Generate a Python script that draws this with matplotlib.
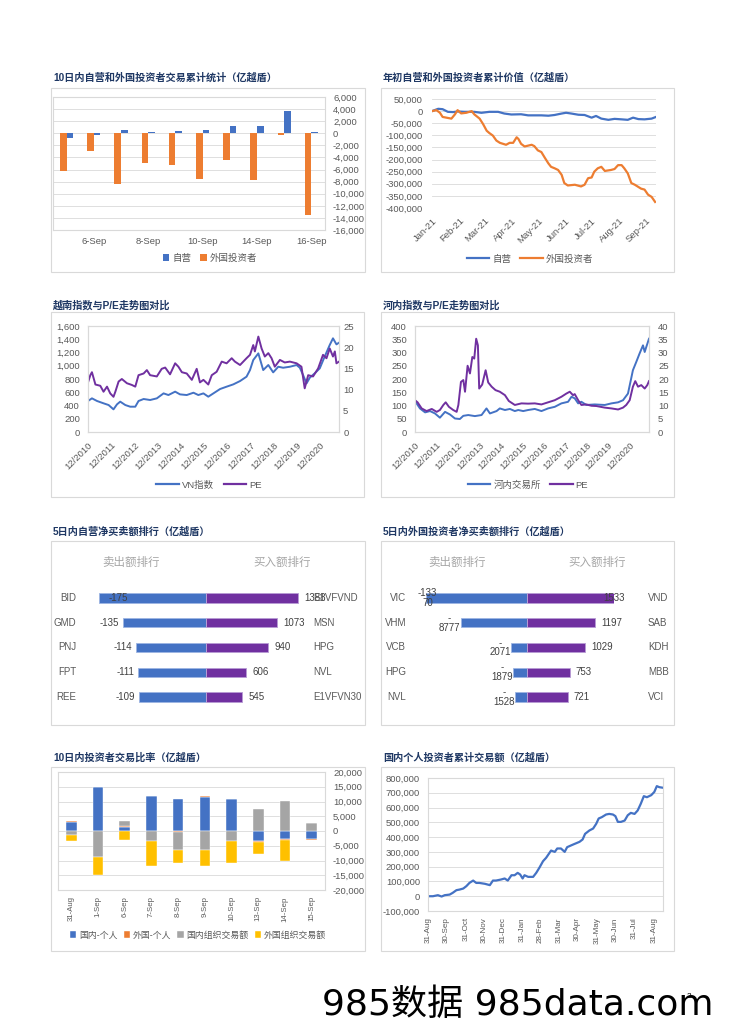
import matplotlib
matplotlib.use('Agg')

import matplotlib.pyplot as plt
from matplotlib.patches import Rectangle
from matplotlib.lines import Line2D
from matplotlib.ticker import FuncFormatter
import numpy as np
import pandas as pd

plt.rcParams['font.family'] = ['Liberation Sans', 'Noto Sans CJK SC', 'DejaVu Sans']

# ---- 10日内自营和外国投资者交易累计统计 ----
riqi_a = ['1-Sep', '6-Sep', '7-Sep', '8-Sep', '9-Sep', '10-Sep', '13-Sep', '14-Sep', '15-Sep', '16-Sep']
ziying_10d = [-720, -330, 560, 220, 330, 500, 1170, 1280, 3610, 220]
waiguo_10d = [-6230, -2950, -8400, -4900, -5230, -7600, -4400, -7670, -220, -13450]

# ---- 年初自营和外国投资者累计价值 (天数从 2021-01-01 起) ----
ziying_tian = [0, 7, 12, 18, 24, 29, 37, 48, 56, 65, 75, 82, 90, 101, 109, 116, 124, 132, 139, 147,
               152, 158, 166, 173, 181, 186, 192, 200, 207, 215, 222, 228, 234, 241, 249, 254]
ziying_lj = [0, 9500, 8000, -3000, -4000, -1500, -3000, -3000, -7000, -3000, -3000, -10000, -14000,
             -13000, -17500, -17500, -17500, -19000, -16000, -10000, -6800, -10000, -15000, -16000,
             -27000, -20000, -31000, -36000, -32000, -34000, -36000, -27000, -33000, -34000, -31000, -24000]
waiguo_tian = [0, 5, 9, 12, 22, 26, 29, 33, 39, 45, 48, 54, 58, 62, 65, 69, 73, 77, 84, 88, 92, 96, 98,
               101, 105, 113, 116, 120, 124, 128, 132, 135, 139, 143, 147, 150, 154, 162, 169, 173, 177,
               181, 184, 188, 192, 196, 203, 207, 211, 215, 218, 222, 226, 230, 237, 241, 245, 249, 253]
waiguo_lj = [0, 4000, -6800, -24000, -31000, -13500, 4000, -9500, -6800, 0, -13500, -31000, -54000,
             -81000, -90500, -101000, -121600, -131000, -139000, -131000, -131000, -108000, -115000,
             -135000, -146000, -139000, -144500, -162000, -169000, -193000, -216000, -230000, -236000,
             -243000, -263000, -297000, -307000, -304000, -311000, -304000, -277000, -274000, -250000,
             -236000, -230000, -247000, -243000, -239000, -223000, -223000, -236000, -257000, -297000,
             -304000, -320000, -324000, -345000, -354000, -375000]

# ---- 越南指数与P/E ----
vn_t = [2010.92, 2011.09, 2011.31, 2011.59, 2011.81, 2012.02, 2012.17, 2012.31, 2012.53, 2012.74,
        2012.96, 2013.10, 2013.32, 2013.60, 2013.89, 2014.18, 2014.39, 2014.68, 2014.89, 2015.18,
        2015.47, 2015.68, 2015.90, 2016.11, 2016.33, 2016.62, 2016.90, 2017.19, 2017.48, 2017.76,
        2017.91, 2018.05, 2018.27, 2018.48, 2018.70, 2018.91, 2019.13, 2019.34, 2019.63, 2019.92,
        2020.06, 2020.20, 2020.35, 2020.49, 2020.70, 2020.92, 2021.13, 2021.35, 2021.49, 2021.64, 2021.75]
vn_zhishu = [468, 508, 468, 433, 407, 342, 417, 458, 407, 382, 382, 468, 498, 483, 508, 583, 558, 609,
             568, 558, 593, 558, 583, 533, 583, 649, 684, 719, 769, 835, 935, 1086, 1187, 935, 1011,
             900, 985, 970, 985, 1011, 970, 860, 734, 820, 885, 961, 1137, 1313, 1414, 1323, 1348]
vn_pe_t = [2010.92, 2011.02, 2011.09, 2011.24, 2011.45, 2011.59, 2011.74, 2011.88, 2012.02, 2012.10,
           2012.24, 2012.38, 2012.60, 2012.81, 2012.96, 2013.10, 2013.32, 2013.46, 2013.60, 2013.89,
           2014.10, 2014.25, 2014.46, 2014.68, 2014.82, 2014.97, 2015.18, 2015.40, 2015.61, 2015.75,
           2015.90, 2016.11, 2016.26, 2016.47, 2016.69, 2016.90, 2017.12, 2017.26, 2017.48, 2017.62,
           2017.76, 2017.91, 2018.05, 2018.12, 2018.27, 2018.41, 2018.55, 2018.70, 2018.84, 2018.98,
           2019.20, 2019.41, 2019.63, 2019.92, 2020.13, 2020.27, 2020.42, 2020.63, 2020.85, 2021.06,
           2021.21, 2021.35, 2021.49, 2021.57, 2021.64, 2021.75]
vn_pe = [11.7, 13.4, 14.1, 11.2, 10.9, 9.5, 10.7, 9.1, 8.3, 9.5, 11.9, 12.5, 11.5, 11.1, 10.7, 13.4,
         13.8, 14.6, 13.4, 13.1, 14.9, 15.2, 13.6, 16.2, 15.4, 14.1, 13.8, 12.3, 14.9, 11.7, 12.3, 11.2,
         13.4, 14.2, 16.6, 16.2, 17.4, 16.6, 15.8, 16.6, 17.4, 18.2, 20.5, 19.0, 22.5, 19.7, 17.8, 18.6,
         17.4, 15.4, 17.0, 16.4, 16.6, 16.2, 15.4, 10.3, 13.4, 13.1, 15.0, 18.2, 17.4, 19.7, 17.8, 19.0,
         16.2, 16.6]

# ---- 河内指数与P/E ----
hn_t = [2010.92, 2011.15, 2011.39, 2011.62, 2011.85, 2012.08, 2012.32, 2012.55, 2012.78, 2013.01,
        2013.17, 2013.40, 2013.71, 2014.02, 2014.25, 2014.41, 2014.72, 2014.87, 2015.11, 2015.34,
        2015.57, 2015.73, 2015.96, 2016.19, 2016.50, 2016.81, 2017.12, 2017.43, 2017.74, 2018.05,
        2018.21, 2018.36, 2018.52, 2018.67, 2018.90, 2019.29, 2019.76, 2020.07, 2020.38, 2020.61,
        2020.84, 2020.99, 2021.07, 2021.23, 2021.38, 2021.54, 2021.62, 2021.69, 2021.82]
hn_zhishu = [117, 89, 74, 79, 70, 54, 76, 66, 51, 49, 61, 64, 60, 64, 89, 70, 79, 89, 83, 87, 79, 83,
             79, 83, 87, 79, 89, 95, 108, 114, 133, 127, 108, 114, 102, 104, 102, 108, 112, 120, 145,
             202, 233, 265, 296, 327, 302, 320, 352]
hn_pe_t = [2010.92, 2011.04, 2011.23, 2011.46, 2011.70, 2011.93, 2012.08, 2012.24, 2012.35, 2012.50,
           2012.70, 2012.86, 2012.94, 2013.06, 2013.17, 2013.25, 2013.37, 2013.48, 2013.59, 2013.68,
           2013.77, 2013.85, 2013.91, 2014.05, 2014.21, 2014.33, 2014.49, 2014.67, 2014.87, 2015.11,
           2015.29, 2015.57, 2015.88, 2016.19, 2016.50, 2016.81, 2017.12, 2017.43, 2017.74, 2017.97,
           2018.13, 2018.28, 2018.36, 2018.52, 2018.67, 2018.90, 2019.14, 2019.37, 2019.76, 2020.07,
           2020.38, 2020.61, 2020.76, 2020.92, 2021.07, 2021.18, 2021.31, 2021.46, 2021.62, 2021.74, 2021.82]
hn_pe = [12.0, 11.2, 8.9, 7.9, 8.7, 7.6, 8.3, 10.2, 11.2, 9.5, 8.3, 7.6, 10.2, 18.9, 19.6, 15.2, 25.0,
         22.1, 28.3, 27.7, 35.2, 32.7, 16.4, 17.9, 23.3, 18.7, 17.1, 15.8, 15.2, 13.9, 11.7, 10.2, 10.8,
         10.7, 10.8, 10.4, 11.2, 12.0, 13.3, 14.5, 15.2, 13.9, 14.3, 12.0, 10.2, 10.4, 9.9, 9.8, 9.2,
         8.9, 8.5, 9.2, 10.2, 12.0, 17.1, 19.2, 17.1, 17.7, 16.4, 17.7, 19.2]

# ---- 5日内净买卖额排行 ----
zy_mai_chu = ['BID', 'GMD', 'PNJ', 'FPT', 'REE']
zy_mai_chu_e = [-175, -135, -114, -111, -109]
zy_mai_ru = ['E1VFVND', 'MSN', 'HPG', 'NVL', 'E1VFVN30']
zy_mai_ru_e = [1388, 1073, 940, 606, 545]
wg_mai_chu = ['VIC', 'VHM', 'VCB', 'HPG', 'NVL']
wg_mai_chu_e = [-13370, -8777, -2071, -1879, -1528]
wg_mai_ru = ['VND', 'SAB', 'KDH', 'MBB', 'VCI']
wg_mai_ru_e = [1533, 1197, 1029, 753, 721]

# ---- 10日内投资者交易比率 ----
riqi_b = ['31-Aug', '1-Sep', '6-Sep', '7-Sep', '8-Sep', '9-Sep', '10-Sep', '13-Sep', '14-Sep', '15-Sep']
guonei_geren = [2950, 14900, 1480, 11800, 10700, 11470, 10700, -3300, -2600, -2600]
waiguo_geren = [450, 0, 150, 0, -200, 350, 0, -350, -350, -350]
guonei_zuzhi = [-1250, -8860, 1700, -3520, -6250, -6480, -3300, 7600, 10100, 2600]
waiguo_zuzhi = [-2150, -6000, -3180, -8300, -4430, -5230, -7400, -4000, -7300, 250]

# ---- 国内个人投资者累计交易额 (天数从 2020-08-31 起) ----
geren_tian = [0, 8, 16, 22, 27, 35, 40, 46, 51, 57, 62, 67, 73, 78, 83, 92, 100, 105, 110, 118, 124,
              129, 135, 140, 145, 149, 153, 156, 162, 170, 175, 180, 186, 191, 199, 205, 209, 215, 221,
              225, 232, 237, 245, 250, 254, 261, 267, 272, 276, 281, 288, 293, 299, 303, 307, 312, 318,
              323, 328, 334, 339, 344, 349, 354, 361, 366, 370, 374, 380]
geren_lj = [0, 0, 7000, -2000, 7000, 11000, 23000, 41000, 45000, 52000, 68000, 90000, 106000, 90000,
            90000, 84000, 75000, 106000, 106000, 113000, 120000, 106000, 142000, 142000, 158000, 147000,
            120000, 142000, 131000, 131000, 158000, 192000, 237000, 260000, 309000, 300000, 323000,
            323000, 300000, 332000, 345000, 354000, 368000, 384000, 422000, 445000, 458000, 490000,
            526000, 535000, 553000, 557000, 553000, 542000, 503000, 503000, 512000, 548000, 564000,
            557000, 580000, 625000, 677000, 670000, 684000, 706000, 745000, 738000, 734000]

BLUE = '#4472C4'
ORANGE = '#ED7D31'
GRAY = '#A5A5A5'
YELLOW = '#FFC000'
PURPLE = '#7030A0'
GRID = '#D9D9D9'
TXT = '#595959'

W, H = 729, 1032
fig = plt.figure(figsize=(W / 100, H / 100), dpi=100)


def rect(l, t, r, b):
    return [l / W, 1 - b / H, (r - l) / W, (b - t) / H]


def fx(x):
    return x / W


def fy(y):
    return 1 - y / H


def kuang(l, t, r, b):
    fig.add_artist(Rectangle((l / W, 1 - b / H), (r - l) / W, (b - t) / H,
                             transform=fig.transFigure, fill=False, ec=GRID, lw=0.8))


def biaoti(x, y, s):
    fig.text(fx(x), fy(y), s, fontsize=7.3, fontweight='bold', color='#1F3864', va='center')


def style(ax, frame=True):
    for s in ax.spines.values():
        s.set_color(GRID)
        s.set_linewidth(0.8)
        s.set_visible(frame)
    ax.tick_params(length=0, labelsize=6.8, labelcolor=TXT)


def tuli(ax, handles, labels, x, y, square=False, size=6.8, gap=1.0):
    kw = dict(handlelength=0.7, handleheight=0.7) if square else dict(handlelength=2.4)
    ax.legend(handles, labels, loc='center', bbox_to_anchor=(fx(x), fy(y)),
              bbox_transform=fig.transFigure, ncol=len(labels), frameon=False, fontsize=size,
              labelcolor=TXT, handletextpad=0.3, columnspacing=gap, borderpad=0, **kw)


comma = FuncFormatter(lambda v, _: f'{v:,.0f}')

# 面板边框
for l, t, r, b in [(51, 88, 365, 272), (381, 88, 674, 272), (51, 312, 364, 497), (381, 312, 674, 497),
                   (51, 541, 365, 725), (381, 541, 674, 725), (51, 767, 365, 951), (381, 767, 674, 951)]:
    kuang(l, t, r, b)

# =================== 图1 ===================
biaoti(53, 78, '10日内自营和外国投资者交易累计统计（亿越盾）')
ax1 = fig.add_axes(rect(53, 97, 325, 230))
x1 = np.arange(len(riqi_a))
b_zy = ax1.bar(x1 + 0.12, ziying_10d, 0.24, color=BLUE)
b_wg = ax1.bar(x1 - 0.12, waiguo_10d, 0.24, color=ORANGE)
ax1.set_xlim(-0.5, len(riqi_a) - 0.5)
ax1.set_ylim(-16000, 6000)
ax1.set_yticks(np.arange(-16000, 6001, 2000))
ax1.yaxis.set_major_formatter(comma)
ax1.yaxis.tick_right()
ax1.set_xticks(x1[1::2], [riqi_a[i] for i in x1[1::2]])
ax1.grid(axis='y', color=GRID, lw=0.6)
ax1.set_axisbelow(True)
style(ax1)
ax1.tick_params(axis='y', pad=5.8)
ax1.tick_params(axis='x', pad=5)
tuli(ax1, [b_zy, b_wg], ['自营', '外国投资者'], 210, 258, square=True)

# =================== 图2 ===================
biaoti(383, 78, '年初自营和外国投资者累计价值（亿越盾）')
ax2 = fig.add_axes(rect(432, 99, 656, 208))
t0 = pd.Timestamp('2021-01-01')
ax2.plot(t0 + pd.to_timedelta(ziying_tian, unit='D'), ziying_lj, color=BLUE, lw=1.6)
ax2.plot(t0 + pd.to_timedelta(waiguo_tian, unit='D'), waiguo_lj, color=ORANGE, lw=1.6)
ax2.set_ylim(-400000, 50000)
ax2.set_yticks(np.arange(-400000, 50001, 50000))
ax2.yaxis.set_major_formatter(comma)
ax2.set_xlim(t0, t0 + pd.Timedelta(days=254))
yue = pd.date_range('2021-01-01', '2021-09-01', freq='MS')
ax2.set_xticks(yue, [d.strftime('%b-%y') for d in yue], rotation=45, ha='right',
               rotation_mode='anchor')
ax2.grid(axis='y', color=GRID, lw=0.6)
ax2.set_axisbelow(True)
style(ax2, frame=False)
ax2.tick_params(axis='y', pad=6.5)
ax2.tick_params(axis='x', pad=6)
tuli(ax2, [Line2D([], [], color=BLUE, lw=1.6), Line2D([], [], color=ORANGE, lw=1.6)],
     ['自营', '外国投资者'], 530, 259)

# =================== 图3 ===================
biaoti(53, 305, '越南指数与P/E走势图对比')
ax3 = fig.add_axes(rect(88, 326, 339, 432))
ax3b = ax3.twinx()
ax3.plot(vn_t, vn_zhishu, color=BLUE, lw=1.4)
ax3b.plot(vn_pe_t, vn_pe, color=PURPLE, lw=1.4)
ax3.set_xlim(2010.92, 2021.75)
ax3.set_ylim(0, 1600)
ax3.set_yticks(np.arange(0, 1601, 200))
ax3.yaxis.set_major_formatter(comma)
ax3b.set_ylim(0, 25)
ax3b.set_yticks(np.arange(0, 26, 5))
nian = np.arange(2010, 2021)
ax3.set_xticks(nian + 0.92, [f'12/{n}' for n in nian], rotation=45, ha='right', rotation_mode='anchor')
style(ax3)
style(ax3b)
ax3.tick_params(axis='y', pad=5.8)
ax3b.tick_params(axis='y', pad=3)
ax3.tick_params(axis='x', pad=6)
tuli(ax3, [Line2D([], [], color=BLUE, lw=1.6), Line2D([], [], color=PURPLE, lw=1.6)],
     ['VN指数', 'PE'], 209, 485)

# =================== 图4 ===================
biaoti(383, 305, '河内指数与P/E走势图对比')
ax4 = fig.add_axes(rect(415, 326, 649, 432))
ax4b = ax4.twinx()
ax4.plot(hn_t, hn_zhishu, color=BLUE, lw=1.4)
ax4b.plot(hn_pe_t, hn_pe, color=PURPLE, lw=1.4)
ax4.set_xlim(2010.92, 2021.82)
ax4.set_ylim(0, 400)
ax4.set_yticks(np.arange(0, 401, 50))
ax4b.set_ylim(0, 40)
ax4b.set_yticks(np.arange(0, 41, 5))
ax4.set_xticks(nian + 0.92, [f'12/{n}' for n in nian], rotation=45, ha='right', rotation_mode='anchor')
style(ax4)
style(ax4b)
ax4.tick_params(axis='y', pad=5.8)
ax4b.tick_params(axis='y', pad=6.5)
ax4.tick_params(axis='x', pad=6)
tuli(ax4, [Line2D([], [], color=BLUE, lw=1.6), Line2D([], [], color=PURPLE, lw=1.6)],
     ['河内交易所', 'PE'], 528, 485)


# =================== 图5 / 图6 ===================
def paihang(lx, cx, rx, names_l, vals_l, names_r, vals_r, name_lx, name_rx, zhedie):
    top, bot = 585.6, 709.4
    n = len(vals_l)
    y = np.arange(n)
    axL = fig.add_axes(rect(lx, top, cx, bot))
    axR = fig.add_axes(rect(cx, top, rx, bot))
    axL.barh(y, vals_l, 0.37, color=BLUE, ec='#9DB5E3', lw=0.6)
    axR.barh(y, vals_r, 0.37, color=PURPLE, ec='#B79BD4', lw=0.6)
    lmin, rmax = min(vals_l), max(vals_r) * (1.0 if zhedie else 1.24)
    axL.set_xlim(lmin, 0)
    axR.set_xlim(0, rmax)
    for a in (axL, axR):
        a.set_ylim(n - 0.5, -0.5)
        a.axis('off')
    hang = (bot - top) / n
    for i in range(n):
        yy = fy(top + (i + 0.5) * hang)
        fig.text(fx(name_lx), yy, names_l[i], ha='right', va='center', fontsize=7, color=TXT)
        fig.text(fx(name_rx), yy, names_r[i], ha='left', va='center', fontsize=7, color=TXT)
        v = vals_l[i]
        s = str(v)
        if zhedie:
            s = s[:4] + '\n' + s[4:] if len(s) > 5 else '-\n' + s[1:]
            dx, ha = (1, 'center') if v <= lmin * 0.98 else (-8, 'center')
        else:
            dx, ha = (7, 'left') if v <= lmin * 0.98 else (-3, 'right')
        axL.annotate(s, (v, i), xytext=(dx, 0), textcoords='offset points', ha=ha, va='center',
                     fontsize=7, color='#404040', linespacing=0.95, annotation_clip=False)
        v = vals_r[i]
        dx, ha = (0, 'center') if v >= rmax * 0.98 else (4.3, 'left')
        axR.annotate(str(v), (v, i), xytext=(dx, 0), textcoords='offset points', ha=ha, va='center',
                     fontsize=7, color='#404040', annotation_clip=False)


biaoti(53, 532, '5日内自营净买卖额排行（亿越盾）')
fig.text(fx(131), fy(563), '卖出额排行', ha='center', va='center', fontsize=8.3, color='#A6A6A6')
fig.text(fx(282), fy(563), '买入额排行', ha='center', va='center', fontsize=8.3, color='#A6A6A6')
paihang(99, 206, 320, zy_mai_chu, zy_mai_chu_e, zy_mai_ru, zy_mai_ru_e, 76, 313, False)

biaoti(383, 532, '5日内外国投资者净买卖额排行（亿越盾）')
fig.text(fx(457), fy(563), '卖出额排行', ha='center', va='center', fontsize=8.3, color='#A6A6A6')
fig.text(fx(597), fy(563), '买入额排行', ha='center', va='center', fontsize=8.3, color='#A6A6A6')
paihang(426, 527, 614, wg_mai_chu, wg_mai_chu_e, wg_mai_ru, wg_mai_ru_e, 406, 648, True)

# =================== 图7 ===================
biaoti(53, 758, '10日内投资者交易比率（亿越盾）')
ax7 = fig.add_axes(rect(58, 772, 325, 890))
x7 = np.arange(len(riqi_b))
zheng = np.zeros(len(riqi_b))
fu = np.zeros(len(riqi_b))
bars7 = []
for vals, c in [(guonei_geren, BLUE), (waiguo_geren, ORANGE), (guonei_zuzhi, GRAY), (waiguo_zuzhi, YELLOW)]:
    v = np.array(vals, float)
    di = np.where(v >= 0, zheng, fu)
    bars7.append(ax7.bar(x7, v, 0.4, bottom=di, color=c, ec='white', lw=0.3))
    zheng += np.clip(v, 0, None)
    fu += np.clip(v, None, 0)
ax7.set_xlim(-0.5, len(riqi_b) - 0.5)
ax7.set_ylim(-20000, 20000)
ax7.set_yticks(np.arange(-20000, 20001, 5000))
ax7.yaxis.set_major_formatter(comma)
ax7.yaxis.tick_right()
ax7.set_xticks(x7, riqi_b, rotation=90, va='top')
ax7.grid(axis='y', color=GRID, lw=0.6)
ax7.set_axisbelow(True)
style(ax7)
ax7.tick_params(axis='y', pad=5.8)
ax7.tick_params(axis='x', pad=4.5, labelsize=5.6)
tuli(ax7, bars7, ['国内-个人', '外国-个人', '国内组织交易额', '外国组织交易额'], 198, 935,
     square=True, size=6.4, gap=0.7)

# =================== 图8 ===================
biaoti(383, 758, '国内个人投资者累计交易额（亿越盾）')
ax8 = fig.add_axes(rect(428, 778, 663, 911))
t1 = pd.Timestamp('2020-08-31')
ax8.plot(t1 + pd.to_timedelta(geren_tian, unit='D'), geren_lj, color=BLUE, lw=1.6)
ax8.set_xlim(t1, t1 + pd.Timedelta(days=380))
ax8.set_ylim(-100000, 800000)
ax8.set_yticks(np.arange(-100000, 800001, 100000))
ax8.yaxis.set_major_formatter(comma)
yuemo = pd.date_range('2020-09-01', '2021-09-01', freq='MS') - pd.Timedelta(days=1)
ax8.set_xticks(yuemo, [d.strftime('%d-%b') for d in yuemo], rotation=90, va='top')
ax8.grid(axis='y', color=GRID, lw=0.6)
ax8.set_axisbelow(True)
style(ax8)
ax8.tick_params(axis='y', pad=5.8)
ax8.tick_params(axis='x', pad=4.5, labelsize=5.8)

# 水印与页码
fig.text(fx(322), fy(1005), '985数据 985data.com', fontsize=26, va='center', ha='left',
         color='black', family=['DejaVu Sans', 'Noto Sans CJK SC'])
fig.text(fx(689), fy(997), '2', fontsize=6, va='center', ha='center', color='black')

fig.savefig('out.png', dpi=100)
